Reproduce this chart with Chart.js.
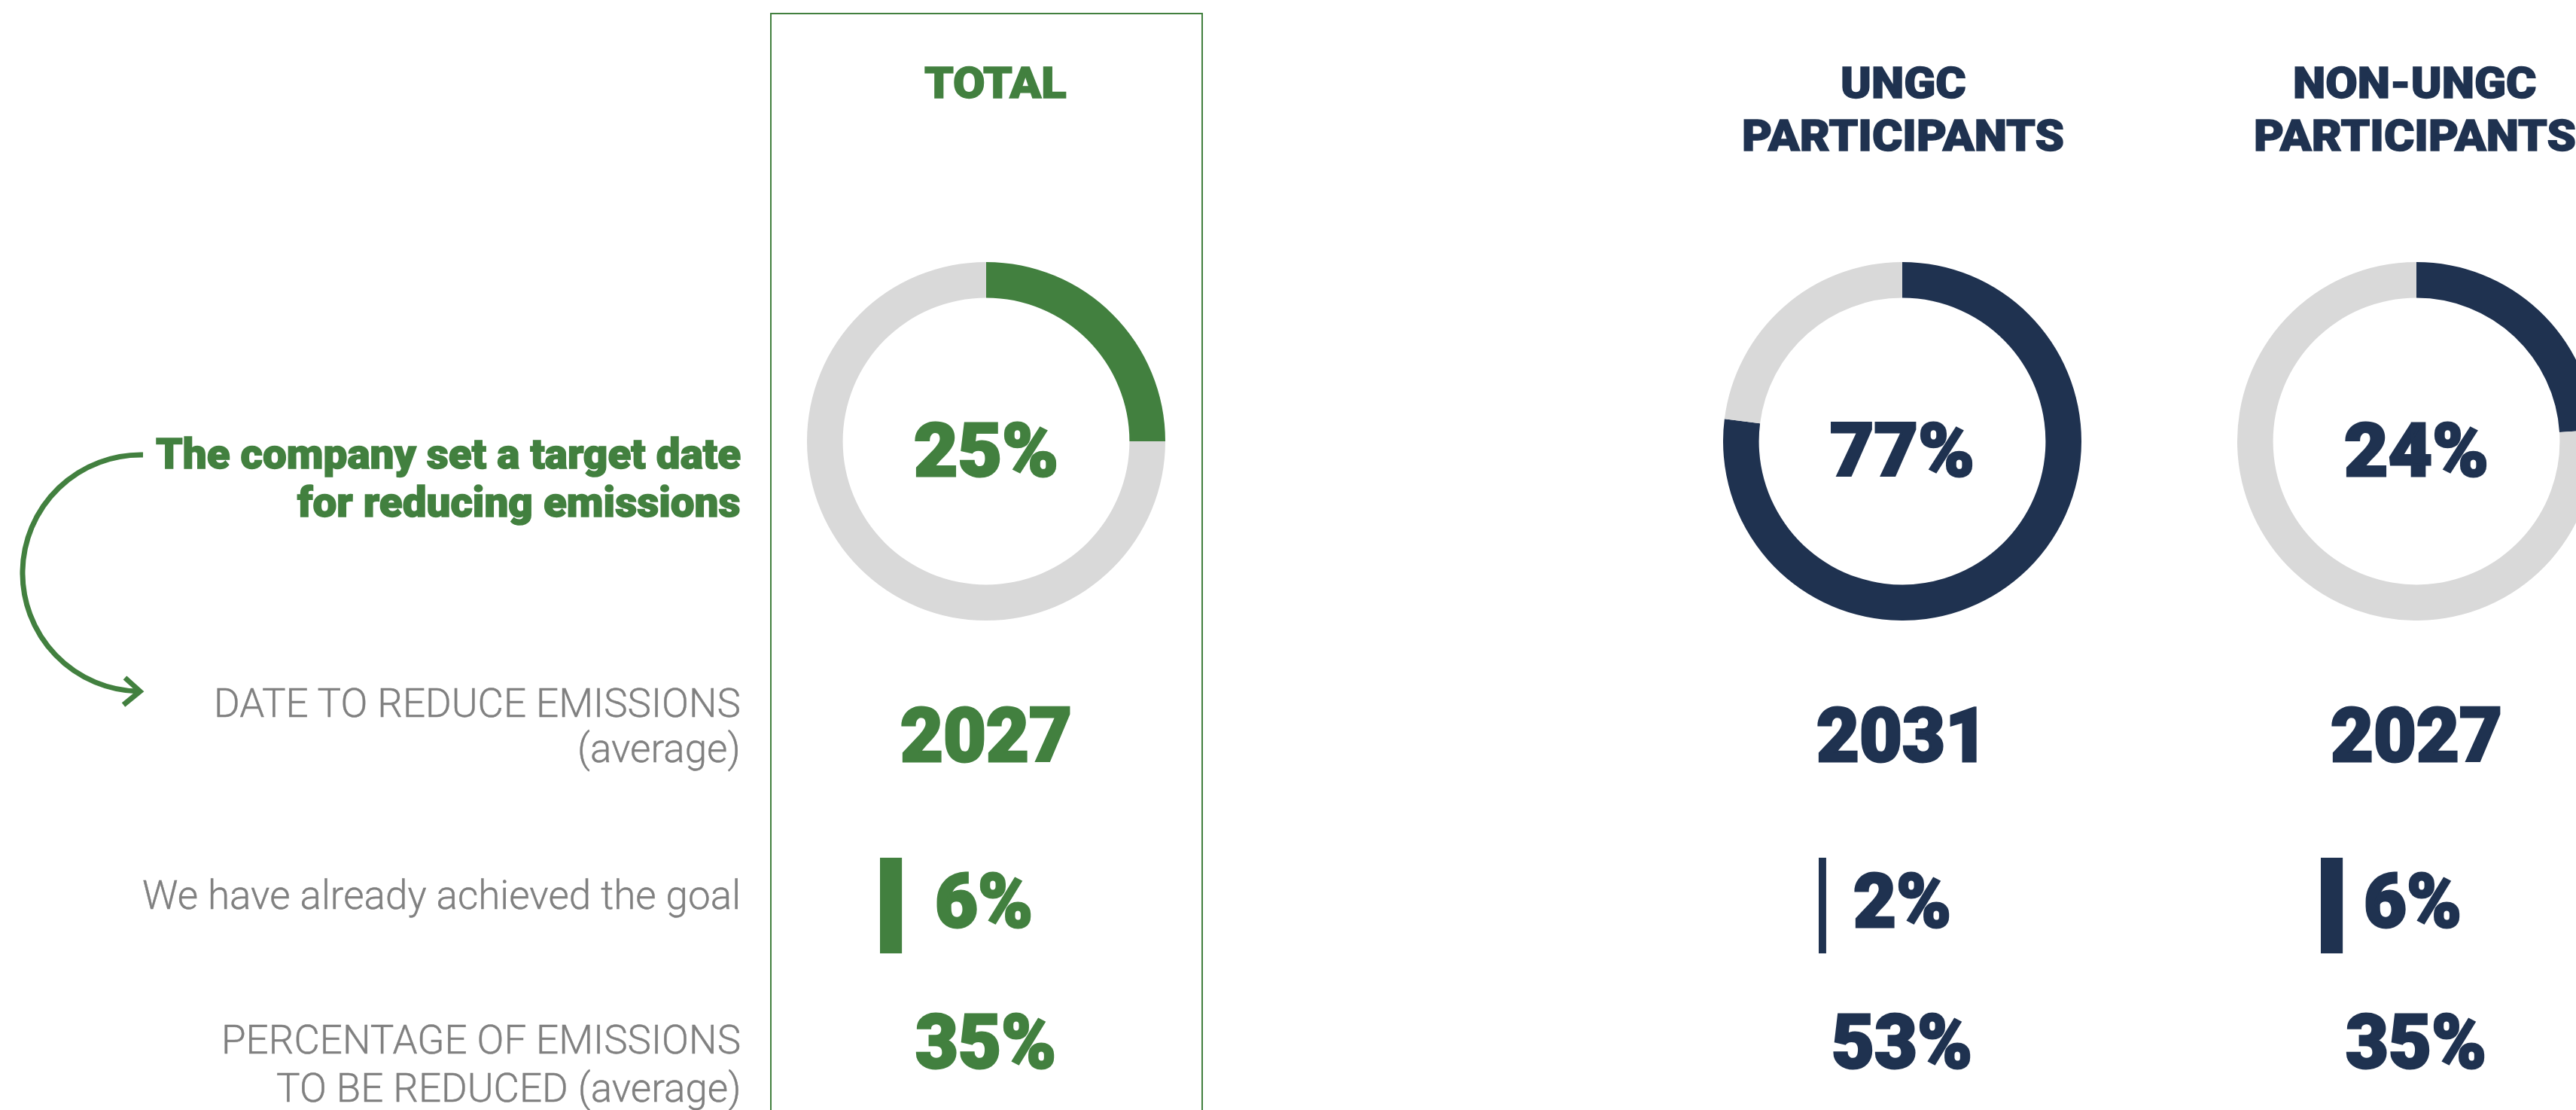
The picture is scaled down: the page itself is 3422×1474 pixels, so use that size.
<!DOCTYPE html>
<html>
<head>
<meta charset="utf-8">
<script src="https://cdn.jsdelivr.net/npm/chart.js@4.4.1/dist/chart.umd.min.js"></script>
<style>
html, body { margin: 0; padding: 0; background: #fff; }
body { width: 3422px; height: 1474px; overflow: hidden; position: relative; }
.box { position: absolute; left: 1023px; top: 17px; width: 571px; height: 1500px; border: 2px solid #42803f; }
.txt { position: absolute; white-space: nowrap; line-height: 1; font-family: Roboto, "Noto Sans", sans-serif; transform-origin: 0 0; }
canvas { position: absolute; }
</style>
</head>
<body>
<div class="box"></div>
<svg style="position:absolute;left:0;top:0" width="400" height="1000">
  <path d="M190,604 A157,157 0 0 0 184,918" fill="none" stroke="#42803f" stroke-width="7"/>
  <path d="M166,900 L186,918 L164,936" fill="none" stroke="#42803f" stroke-width="7"/>
</svg>
<script>
// data
var groups = ["TOTAL", "UNGC PARTICIPANTS", "NON-UNGC PARTICIPANTS"];
var titleLines = [["TOTAL"], ["UNGC", "PARTICIPANTS"], ["NON-UNGC", "PARTICIPANTS"]];
var setTargetDate = [25, 77, 24];       // % companies with a target date
var avgTargetYear = [2027, 2031, 2027];
var alreadyAchieved = [6, 2, 6];        // %
var avgReduction = [35, 53, 35];        // %
var leadLabel = ["The company set a target date", "for reducing emissions"];
var rowLabels = [
  ["DATE TO REDUCE EMISSIONS", "(average)"],
  ["We have already achieved the goal"],
  ["PERCENTAGE OF EMISSIONS", "TO BE REDUCED (average)"]
];

var GREEN = "#42803f", NAVY = "#1f3250", REST = "#d9d9d9", GREY = "#808080";
var groupColors = [GREEN, NAVY, NAVY];

// layout
var colX = [1310, 2527, 3210];
var titleX = [1322, 2528, 3208];
var ringY = 586, ringR = 238;
var barLeft = [1169, 2416, 3083];
var pctLeft = [1242, 2462, 3140];
var labelRight = 984;

// text classes, each fitted to a width measured on the reference
var cls = {
  title: { size: 58, weight: 900, stroke: 1.5, ref: "PARTICIPANTS", refW: 428 },
  ring:  { size: 98, weight: 900, stroke: 3, ref: "25%", refW: 192 },
  value: { size: 100, weight: 900, stroke: 3, ref: "2027", refW: 228 },
  lead:  { size: 55, weight: 900, stroke: 1.5, ref: leadLabel[0], refW: 777 },
  label: { size: 53, weight: 300, stroke: 0.4, ref: rowLabels[0][0], refW: 700 }
};

function makeEl(str, c) {
  var el = document.createElement("div");
  el.className = "txt";
  el.textContent = str;
  el.style.fontSize = c.size + "px";
  el.style.fontWeight = c.weight;
  document.body.appendChild(el);
  return el;
}

for (var k in cls) {
  var probe = makeEl(cls[k].ref, cls[k]);
  cls[k].sx = cls[k].refW / probe.getBoundingClientRect().width;
  probe.remove();
}

function put(str, c, color, x, base, align) {
  var el = makeEl(str, c);
  el.style.color = color;
  el.style.webkitTextStroke = c.stroke + "px " + color;
  var w = el.getBoundingClientRect().width * c.sx;
  var left = align === "right" ? x - w : align === "center" ? x - w / 2 : x;
  el.style.left = left + "px";
  el.style.top = (base - 0.842 * c.size) + "px";
  el.style.transform = "scaleX(" + c.sx + ")";
}

// column headers
titleLines.forEach(function (lines, i) {
  lines.forEach(function (line, j) {
    put(line, cls.title, groupColors[i], titleX[i], 130 + j * 70, "center");
  });
});

// doughnuts
groups.forEach(function (g, i) {
  var c = document.createElement("canvas");
  c.width = ringR * 2; c.height = ringR * 2;
  c.style.left = (colX[i] - ringR) + "px";
  c.style.top = (ringY - ringR) + "px";
  document.body.appendChild(c);
  new Chart(c, {
    type: "doughnut",
    data: {
      labels: ["Yes", "No"],
      datasets: [{
        data: [setTargetDate[i], 100 - setTargetDate[i]],
        backgroundColor: [groupColors[i], REST],
        borderWidth: 0
      }]
    },
    options: {
      responsive: false, animation: false, devicePixelRatio: 1,
      cutout: "80%",
      layout: { padding: 0 },
      plugins: { legend: { display: false }, tooltip: { enabled: false } }
    }
  });
  put(setTargetDate[i] + "%", cls.ring, groupColors[i], colX[i], 633, "center");
});

// already achieved bars
groups.forEach(function (g, i) {
  var c = document.createElement("canvas");
  c.width = 480; c.height = 127;
  c.style.left = barLeft[i] + "px";
  c.style.top = "1139px";
  document.body.appendChild(c);
  new Chart(c, {
    type: "bar",
    data: {
      labels: [g],
      datasets: [{
        data: [alreadyAchieved[i]],
        backgroundColor: groupColors[i],
        borderWidth: 0,
        barPercentage: 1,
        categoryPercentage: 1
      }]
    },
    options: {
      indexAxis: "y",
      responsive: false, animation: false, devicePixelRatio: 1,
      layout: { padding: 0 },
      scales: {
        x: { display: false, min: 0, max: 100 },
        y: { display: false }
      },
      plugins: { legend: { display: false }, tooltip: { enabled: false } }
    }
  });
  put(alreadyAchieved[i] + "%", cls.value, groupColors[i], pctLeft[i], 1231, "left");
});

// year + reduction values
groups.forEach(function (g, i) {
  put(String(avgTargetYear[i]), cls.value, groupColors[i], colX[i], 1011, "center");
  put(avgReduction[i] + "%", cls.value, groupColors[i], colX[i], 1418, "center");
});

// left labels
put(leadLabel[0], cls.lead, GREEN, labelRight, 622, "right");
put(leadLabel[1], cls.lead, GREEN, labelRight, 686, "right");
put(rowLabels[0][0], cls.label, GREY, labelRight, 953, "right");
put(rowLabels[0][1], cls.label, GREY, labelRight, 1013, "right");
put(rowLabels[1][0], cls.label, GREY, labelRight, 1208, "right");
put(rowLabels[2][0], cls.label, GREY, labelRight, 1400, "right");
put(rowLabels[2][1], cls.label, GREY, labelRight, 1464, "right");
</script>
</body>
</html>
